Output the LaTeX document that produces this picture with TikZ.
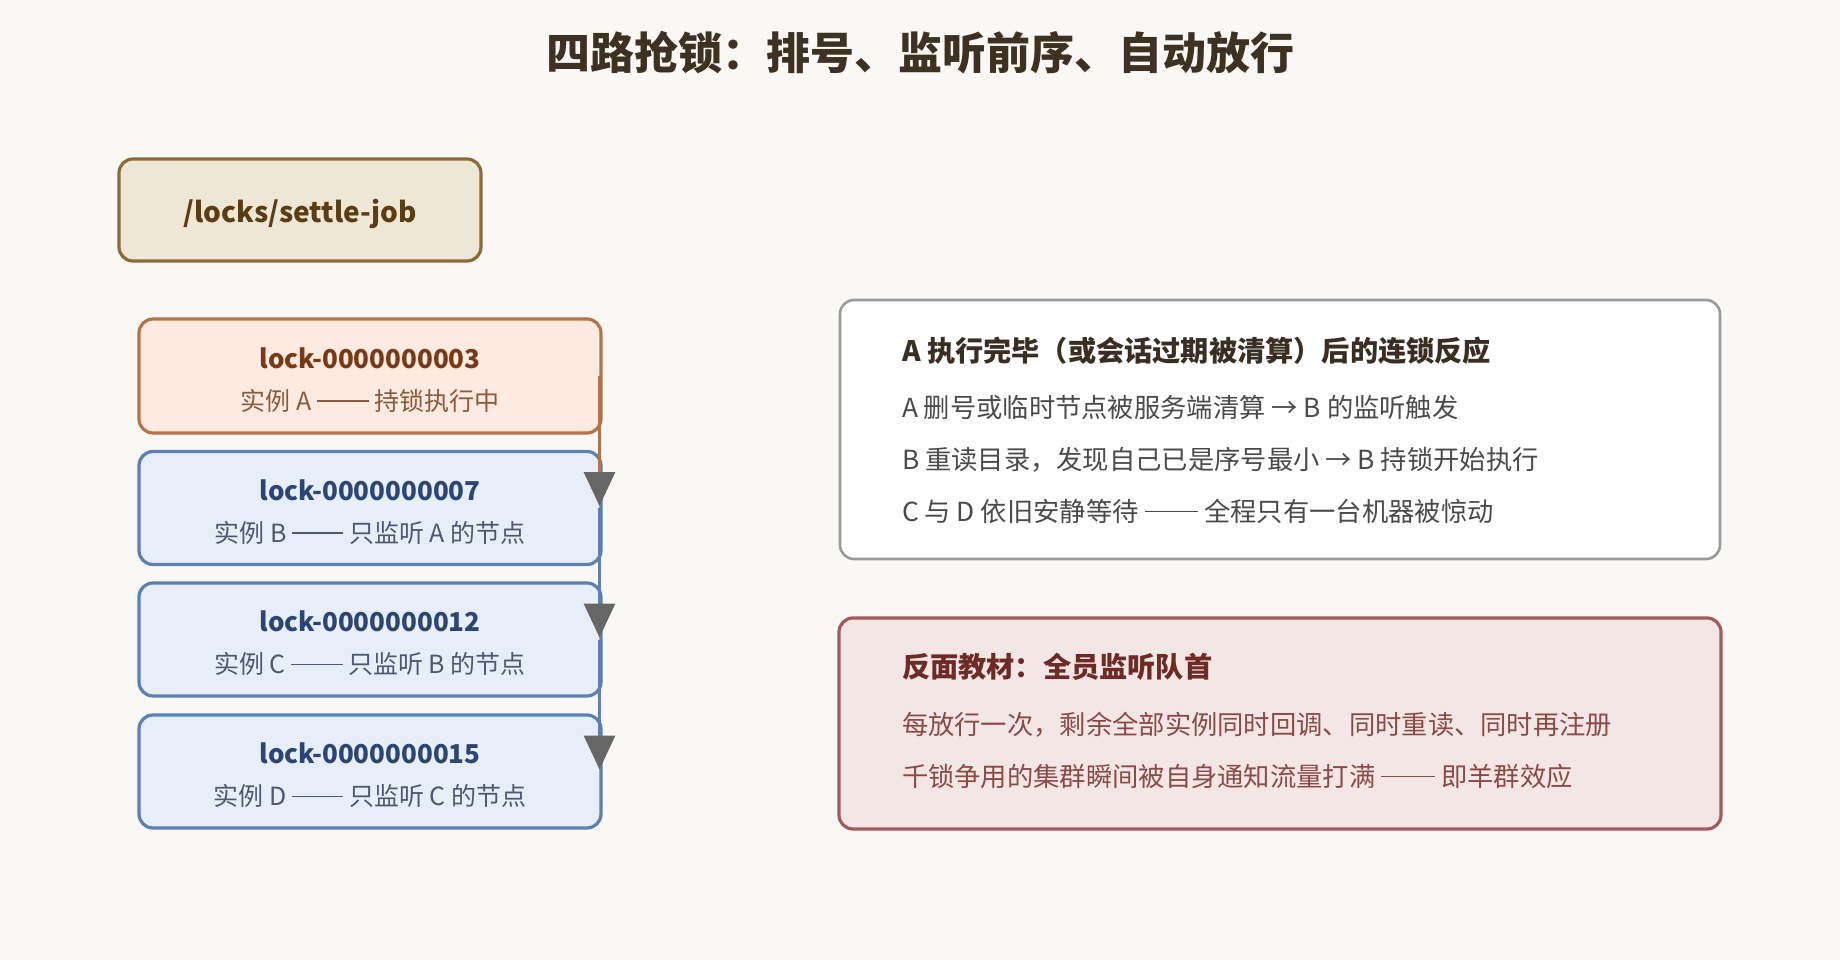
\documentclass[tikz,border=0pt]{standalone}
\usepackage{fontspec}
\setmainfont{Noto Sans CJK SC}
\usetikzlibrary{arrows.meta,calc}
\definecolor{bg}{HTML}{FAF8F4}
\definecolor{titlec}{HTML}{3D3122}
\definecolor{rootfill}{HTML}{EFE7D6}
\definecolor{rootdraw}{HTML}{8C6B3A}
\definecolor{roottext}{HTML}{5A3D12}
\definecolor{afill}{HTML}{FDEBE1}
\definecolor{adraw}{HTML}{B5734A}
\definecolor{atitle}{HTML}{7A3814}
\definecolor{asub}{HTML}{8A5A3C}
\definecolor{bfill}{HTML}{E8EEF8}
\definecolor{bdraw}{HTML}{5C7FB4}
\definecolor{btitle}{HTML}{2B4674}
\definecolor{bsub}{HTML}{4E5870}
\definecolor{infodraw}{HTML}{9A9A9A}
\definecolor{infotitle}{HTML}{3A2E22}
\definecolor{infobody}{HTML}{4A4A4A}
\definecolor{redfill}{HTML}{F3E7E6}
\definecolor{reddraw}{HTML}{A45A58}
\definecolor{redtitle}{HTML}{6E2A24}
\definecolor{redbody}{HTML}{8A4A46}
\definecolor{arrowgray}{HTML}{666666}
\newcommand{\ddash}{\rule[0.33em]{2.05em}{0.055em}}
\tikzset{
  box/.style={draw, line width=3.2pt, rounded corners=14pt, outer sep=0pt, inner sep=0pt},
  rootbox/.style={box, draw=rootdraw, fill=rootfill, minimum width=362pt, minimum height=102pt},
  abox/.style={box, draw=adraw, fill=afill, minimum width=462pt, minimum height=114pt},
  bbox/.style={box, draw=bdraw, fill=bfill, minimum width=462pt, minimum height=113pt},
  infobox/.style={box, draw=infodraw, fill=white, line width=2.6pt, minimum width=880pt, minimum height=259pt},
  redbox/.style={box, draw=reddraw, fill=redfill, minimum width=882pt, minimum height=211pt},
  txt/.style={inner sep=0pt, outer sep=0pt, text height=20pt, text depth=0pt},
  locktitle/.style={txt, font=\fontsize{26pt}{30pt}\selectfont\bfseries},
  locksub/.style={txt, font=\fontsize{25pt}{29pt}\selectfont},
  sidetitle/.style={txt, anchor=west, font=\fontsize{28.2pt}{32pt}\selectfont\bfseries},
  sidebody/.style={txt, anchor=west, font=\fontsize{26.3pt}{30pt}\selectfont},
  chain/.style={line width=3pt, -{Triangle[width=31pt,length=34pt,color=arrowgray]}, shorten >=2pt},
}
\begin{document}
\begin{tikzpicture}[x=1pt,y=-1pt]
\useasboundingbox (0,0) rectangle (1840,960);
\fill[bg] (0,0) rectangle (1840,960);

\node[txt, text height=23pt, font=\fontsize{44pt}{50pt}\selectfont\bfseries, text=titlec] (title) at (920,58) {四路抢锁：排号、监听前序、自动放行};

\node[rootbox] (root) at (300,210) {};
\node[txt, text height=25pt, font=\fontsize{28pt}{32pt}\selectfont\bfseries, text=roottext] (roott) at (root.center) {/locks/settle-job};

\node[abox] (A) at (370,376) {};
\node[bbox] (B) at (370,508) {};
\node[bbox] (C) at (370,639.5) {};
\node[bbox] (D) at (370,771.5) {};

\node[locktitle, text=atitle] (At) at ($(A.center)+(0,-18)$) {lock-0000000003};
\node[locksub, text=asub] (As) at ($(A.center)+(0,24)$) {实例 A \ddash{} 持锁执行中};
\node[locktitle, text=btitle] (Bt) at ($(B.center)+(0,-18)$) {lock-0000000007};
\node[locksub, text=bsub] (Bs) at ($(B.center)+(0,24)$) {实例 B \ddash{} 只监听 A 的节点};
\node[locktitle, text=btitle] (Ct) at ($(C.center)+(0,-18)$) {lock-0000000012};
\node[locksub, text=bsub] (Cs) at ($(C.center)+(0,24)$) {实例 C \ddash{} 只监听 B 的节点};
\node[locktitle, text=btitle] (Dt) at ($(D.center)+(0,-18)$) {lock-0000000015};
\node[locksub, text=bsub] (Ds) at ($(D.center)+(0,24)$) {实例 D \ddash{} 只监听 C 的节点};

\draw[chain, draw=adraw] ($(A.east)+(-1.5,0)$) -- ($(B.east)+(-1.5,0)$);
\draw[chain, draw=bdraw] ($(B.east)+(-1.5,0)$) -- ($(C.east)+(-1.5,0)$);
\draw[chain, draw=bdraw] ($(C.east)+(-1.5,0)$) -- ($(D.east)+(-1.5,0)$);

\node[infobox] (info) at (1280,429.5) {};
\node[sidetitle, text=infotitle] (it) at (902,351) {A 执行完毕（或会话过期被清算）后的连锁反应};
\node[sidebody, text=infobody] (i1) at (902,407) {A 删号或临时节点被服务端清算 → B 的监听触发};
\node[sidebody, text=infobody] (i2) at (902,459) {B 重读目录，发现自己已是序号最小 → B 持锁开始执行};
\node[sidebody, text=infobody] (i3) at (902,511) {C 与 D 依旧安静等待 \ddash{} 全程只有一台机器被惊动};

\node[redbox] (anti) at (1280,723.5) {};
\node[sidetitle, text=redtitle] (rt) at (902,667) {反面教材：全员监听队首};
\node[sidebody, text=redbody] (r1) at (902,724) {每放行一次，剩余全部实例同时回调、同时重读、同时再注册};
\node[sidebody, text=redbody] (r2) at (902,776) {千锁争用的集群瞬间被自身通知流量打满 \ddash{} 即羊群效应};
\end{tikzpicture}
\end{document}
